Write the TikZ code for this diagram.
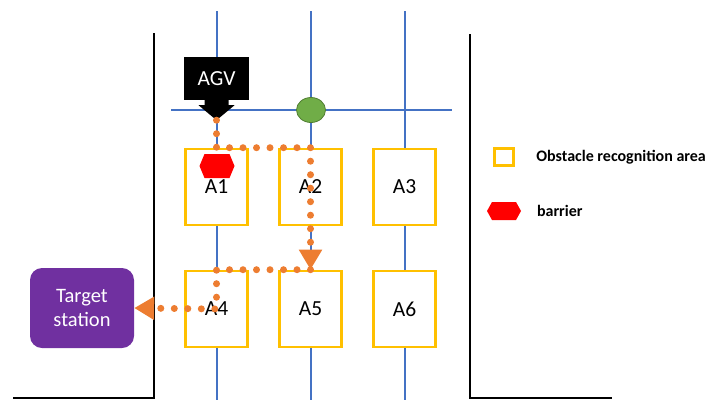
\documentclass[tikz,border=0pt]{standalone}
\usepackage{fontspec}
\setmainfont{Carlito}
\usetikzlibrary{arrows.meta, positioning, shapes.geometric}
\definecolor{lane}{RGB}{68,114,196}
\definecolor{zone}{RGB}{255,192,0}
\definecolor{route}{RGB}{237,125,49}
\definecolor{station}{RGB}{112,48,160}
\definecolor{junction}{RGB}{112,173,71}
\definecolor{junctionedge}{RGB}{80,126,50}

\begin{document}
\begin{tikzpicture}[x=1pt, y=-1pt,
  area/.style={draw=zone, line width=2.6pt, fill=white, minimum width=62pt, minimum height=76pt, inner sep=0pt, font=\fontsize{21.5}{24}\selectfont},
  wall/.style={line width=2.8pt},
  dots/.style={route, line width=7pt, line cap=round, dash pattern=on 0pt off 13.5pt, -{Triangle[length=20pt, width=22pt]}},
  legend/.style={font=\bfseries\fontsize{16}{19}\selectfont}]
  \useasboundingbox (0,0) rectangle (708,400);
  % Walls
  \draw[wall] (154,33) -- (154,398) -- (13,398);
  \draw[wall] (470,34) -- (470,398) -- (612,398);
  % Lanes
  \foreach \x in {217,311,405}
    \draw[lane, line width=1.6pt] (\x,11) -- (\x,400);
  \draw[lane, line width=1.6pt] (171,110) -- (452,110);
  \node[ellipse, draw=junctionedge, fill=junction, line width=0.8pt, minimum width=29pt, minimum height=25pt, inner sep=0pt] (junction) at (311,110) {};
  % Obstacle recognition areas
  \foreach \n/\x/\y in {A1/216.5/187, A2/310.5/187, A3/404.5/187, A4/216.5/309, A5/310.5/309, A6/404.5/309}
    \node[area] (\n) at (\x,\y) {\n};
  % AGV
  \node[fill=black, text=white, minimum width=65pt, minimum height=43pt, inner sep=0pt, font=\fontsize{21.5}{24}\selectfont] (agv) at (216.5,78.5) {AGV};
  \coordinate[below=20pt of agv.south] (agvtip);
  \fill (agv.south) ++(-12,-1) -- ++(0,6) -- ++(-6,0) -- (agvtip) -- ++(18,-15) -- ++(-6,0) -- ++(0,-6) -- cycle;
  % Barriers
  \foreach \x/\y/\w/\h in {217/166/17.5/12, 504/211/17/9}
    \fill[red] (\x-\w,\y) -- (\x-\w+5,\y-\h) -- (\x+\w-5,\y-\h) -- (\x+\w,\y) -- (\x+\w-5,\y+\h) -- (\x-\w+5,\y+\h) -- cycle;
  % Target station
  \node[fill=station, rounded corners=12pt, minimum width=104pt, minimum height=80pt, text=white, align=center, font=\fontsize{20.5}{24}\selectfont] (target) at (82,308) {Target\\station};
  % Route
  \draw[dots] (agvtip) -- (agvtip |- A2.north) -- (A2.north) -- (A5.north);
  \draw[dots] (A5.north) -- (A4.north) -- (A4.center) -- (target.east);
  % Legend
  \node[draw=zone, line width=2.6pt, minimum width=19pt, minimum height=17pt, inner sep=0pt] (legarea) at (504,157) {};
  \node[legend, right=18pt of legarea] (legareatext) {Obstacle recognition area};
  \node[legend, anchor=west] (legbarriertext) at (533.5,211) {barrier};
\end{tikzpicture}
\end{document}
